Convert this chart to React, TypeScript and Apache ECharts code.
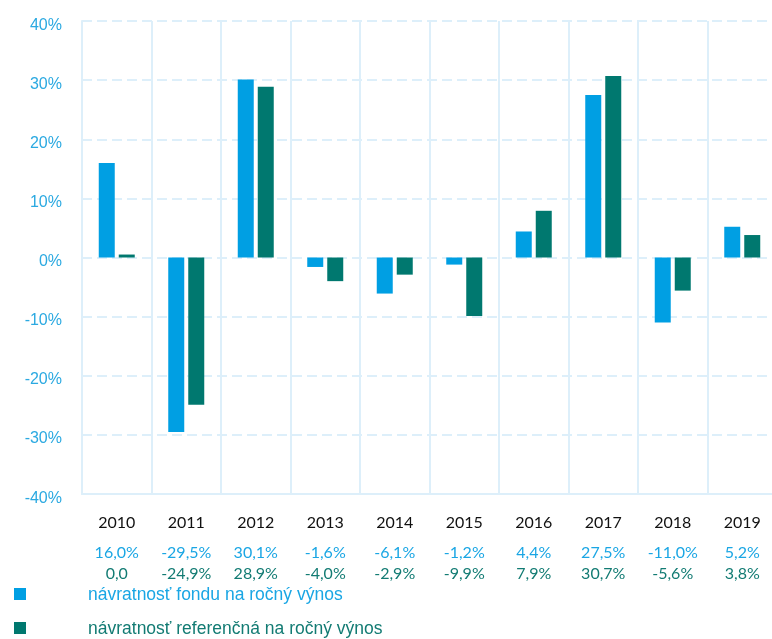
import React, { useEffect, useRef } from "react";
import * as echarts from "echarts";

const years = ["2010", "2011", "2012", "2013", "2014", "2015", "2016", "2017", "2018", "2019"];
const fundValues = [16.0, -29.5, 30.1, -1.6, -6.1, -1.2, 4.4, 27.5, -11.0, 5.2];
const benchValues = [0.5, -24.9, 28.9, -4.0, -2.9, -9.9, 7.9, 30.7, -5.6, 3.8];
const fundLabels = ["16,0%", "-29,5%", "30,1%", "-1,6%", "-6,1%", "-1,2%", "4,4%", "27,5%", "-11,0%", "5,2%"];
const benchLabels = ["0,0", "-24,9%", "28,9%", "-4,0%", "-2,9%", "-9,9%", "7,9%", "30,7%", "-5,6%", "3,8%"];
const seriesNames = ["návratnosť fondu na ročný výnos", "návratnosť referenčná na ročný výnos"];

const BLUE = "#009FE3";
const TEAL = "#00786F";
const BLUE_TEXT = "#1AA6E4";
const TEAL_TEXT = "#127B73";
const GRID = "#DDEFFA";

const legendBase = {
  left: 9,
  itemWidth: 12,
  itemHeight: 12,
  icon: "rect",
  selectedMode: false,
};

export default function App() {
  const ref = useRef<HTMLDivElement>(null);
  useEffect(() => {
    if (!ref.current) return;
    const chart = echarts.init(ref.current, undefined, { renderer: "svg" });
    chart.setOption({
      animation: false,
      grid: { left: 82, width: 695, top: 21, height: 473, containLabel: false },
      legend: [
        {
          ...legendBase,
          top: 580,
          textStyle: { fontFamily: "Liberation Sans", fontSize: 17.5, padding: [9, 0, 0, 57], color: BLUE_TEXT },
          data: [seriesNames[0]],
        },
        {
          ...legendBase,
          top: 614,
          textStyle: { fontFamily: "Liberation Sans", fontSize: 17.5, padding: [9, 0, 0, 57], color: TEAL_TEXT },
          data: [seriesNames[1]],
        },
      ],
      xAxis: {
        type: "category",
        data: years,
        axisLine: { show: true, onZero: false, lineStyle: { color: GRID, width: 2 } },
        axisTick: { show: false },
        splitLine: { show: true, lineStyle: { color: GRID, width: 2, type: "solid" } },
        axisLabel: {
          margin: 13,
          interval: 0,
          formatter: (v: string, i: number) => `{y|${v}}\n{a|${fundLabels[i]}}\n{b|${benchLabels[i]}}`,
          rich: {
            y: { fontFamily: "Lato", fontSize: 16, color: "#111", lineHeight: 28 },
            a: { fontFamily: "Lato", fontSize: 16, color: BLUE_TEXT, lineHeight: 32 },
            b: { fontFamily: "Lato", fontSize: 16, color: TEAL_TEXT, lineHeight: 10 },
          },
        },
      },
      yAxis: {
        type: "value",
        min: -40,
        max: 40,
        interval: 10,
        axisLine: { show: true, lineStyle: { color: GRID, width: 2 } },
        axisTick: { show: false },
        axisLabel: {
          margin: 20,
          formatter: "{value}%",
          fontFamily: "Liberation Sans",
          fontSize: 16,
          color: "#2BA9E1",
          verticalAlign: "top",
          lineHeight: 6,
        },
        splitLine: { show: true, lineStyle: { color: GRID, width: 2, type: [10, 5] } },
      },
      series: [
        {
          name: seriesNames[0],
          type: "bar",
          data: fundValues,
          barWidth: 16,
          barGap: "25%",
          itemStyle: { color: BLUE },
        },
        {
          name: seriesNames[1],
          type: "bar",
          data: benchValues,
          barWidth: 16,
          itemStyle: { color: TEAL },
        },
      ],
    });
    return () => chart.dispose();
  }, []);
  return (
    <div style={{ width: 772, height: 639, position: "fixed", left: 0, top: 0, overflow: "hidden" }}>
      <div ref={ref} style={{ width: 780, height: 639 }} />
    </div>
  );
}
